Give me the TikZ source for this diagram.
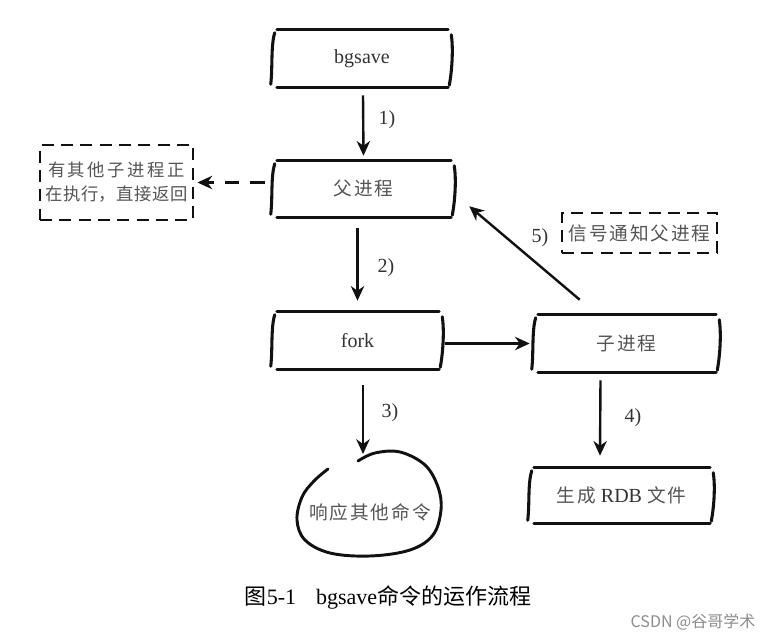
\documentclass[tikz,border=0pt]{standalone}
\usepackage{fontspec}
\setmainfont{Liberation Serif}
\newfontfamily\hand[LetterSpace=10]{Noto Sans CJK SC}
\newfontfamily\cjk{Noto Sans CJK SC}
\usetikzlibrary{arrows.meta,calc}
\definecolor{ink}{HTML}{111111}
\definecolor{txt}{HTML}{333333}
\definecolor{htxt}{HTML}{555555}
\tikzset{
  sk/.style={draw=ink, line width=2.1pt, line cap=round},
  arr/.style={draw=ink, line width=1.8pt, -{Stealth[length=11pt,width=10pt,inset=3.5pt]}},
  skb/.style={inner sep=0pt, text=txt, font=\fontsize{15}{17}\selectfont},
  dbox/.style={draw=ink, line width=2.2pt, dash pattern=on 9pt off 5.5pt, inner sep=0pt, text=htxt, font=\hand\fontsize{13}{18}\selectfont, align=center},
  lbl/.style={text=txt, font=\fontsize{15}{17}\selectfont},
  hlbl/.style={text=htxt, font=\hand\fontsize{14}{16}\selectfont},
}
\newcommand\skbox[1]{%
  \draw[sk] ($(#1.north west)+(5,0)$) -- ($(#1.north east)+(-4,0)$);
  \draw[sk] ($(#1.south west)+(5,0)$) -- ($(#1.south east)+(-4,0)$);
  \draw[sk, line width=2.3pt] ($(#1.north west)+(3,3)$) .. controls ($(#1.north west)+(-1,16)$) and ($(#1.south west)+(1,-20)$) .. ($(#1.south west)+(-1,-3)$);
  \draw[sk, line width=2.3pt] ($(#1.north east)+(-1,5)$) .. controls ($(#1.north east)+(1,18)$) and ($(#1.south east)+(0,-18)$) .. ($(#1.south east)+(-3,-2)$);
}
\begin{document}
\begin{tikzpicture}[x=0.75pt,y=-0.75pt]
\fill[white] (0,0) rectangle (776,641);
\useasboundingbox (0,0) rectangle (776,641);

% boxes
\node[skb, minimum width=135pt, minimum height=42.75pt] (bgsave) at (362,58.5) {bgsave};
\node[skb, minimum width=137.25pt, minimum height=42pt, text=htxt, font=\hand\fontsize{14}{16}\selectfont] (parent) at (363.5,189) {父进程};
\node[skb, minimum width=128.25pt, minimum height=42.75pt] (fork) at (357.5,340.5) {fork};
\node[skb, minimum width=140.25pt, minimum height=42.75pt, text=htxt, font=\hand\fontsize{14}{16}\selectfont] (child) at (626.5,343.5) {子进程};
\node[skb, minimum width=138.75pt, minimum height=41.25pt] (rdb) at (621.5,495.5) {\textcolor{htxt}{\hand\fontsize{14}{16}\selectfont 生成} RDB \textcolor{htxt}{\hand\fontsize{14}{16}\selectfont 文件}};
\skbox{bgsave}
\skbox{parent}
\skbox{fork}
\skbox{child}
\skbox{rdb}

\node[dbox, minimum width=114.75pt, minimum height=56.25pt] (leftbox) at (116.5,182.5) {{\addfontfeature{LetterSpace=15}有其他子进程正\hspace{-2pt}}\\{\addfontfeature{LetterSpace=3}在执行，直接返回}};
\node[dbox, minimum width=116.25pt, minimum height=30pt, font=\hand\fontsize{14}{16}\selectfont] (signal) at (639.5,233) {信号通知父进程};

% loop
\node[hlbl] (resp) at (370,512) {响应其他命令};
\coordinate (looptop) at (363,454);
\draw[sk, line width=2.2pt] plot[smooth, tension=0.6] coordinates {(358,461) (375,453) (400,452) (425,465) (438,487) (441,510) (433,535) (410,550) (370,556) (330,553) (305,540) (297,520) (302,497) (314,481) (328,469)};

% connectors
\draw[arr] ($(bgsave.south)+(1,8)$) -- ($(parent.north)+(0,-5)$);
\draw[arr] ($(fork.north |- parent.south)+(0,11)$) -- ($(fork.north)+(0,-11)$);
\draw[arr] ($(fork.south -| looptop)+(0,16)$) -- (looptop);
\draw[arr] ($(child.south)+(-26,8)$) -- ($(rdb.north)+(-21.5,-12)$);
\draw[arr] ($(fork.east |- child.west)+(2,0)$) -- ($(child.west)+(-3,0)$);
\draw[arr] ($(child.north west)+(47,-15)$) -- ($(parent.south east)+(14,-11)$);
\draw[arr, dash pattern=on 11pt off 8pt] ($(parent.west |- leftbox.east)+(-7,0)$) -- ($(leftbox.east)+(3,0)$);

% labels
\node[lbl] at (387,120) {1)};
\node[lbl] at (386,268) {2)};
\node[lbl] at (390,413) {3)};
\node[lbl] at (633,418) {4)};
\node[lbl] at (540,238) {5)};

% caption
\node[text=black, font=\fontsize{16.5}{18}\selectfont] (cap) at (388,598) {{\cjk 图}5-1\hspace{0.9em}bgsave{\cjk 命令的运作流程}};
\node[text=black!45, font=\cjk\fontsize{12}{14}\selectfont] (wm) at (693,622) {CSDN @谷哥学术};
\end{tikzpicture}
\end{document}
